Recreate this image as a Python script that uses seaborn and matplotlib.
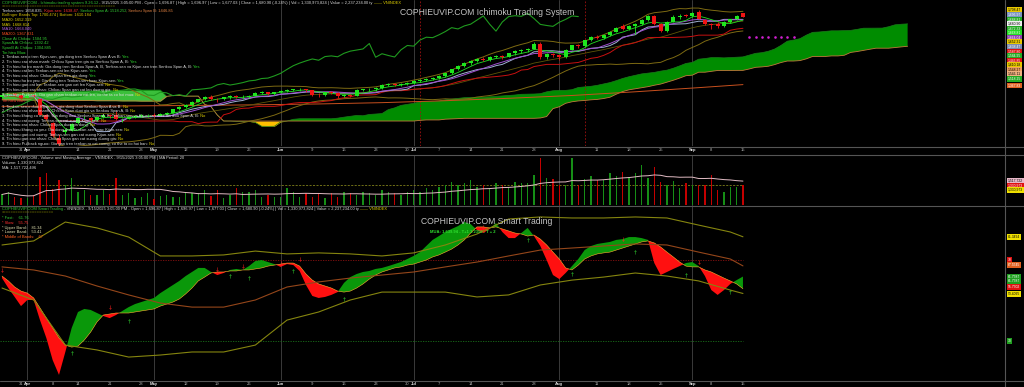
import numpy as np
import pandas as pd
import seaborn as sns
import matplotlib.pyplot as plt
from matplotlib.lines import Line2D

W, H = 1024, 387
STEP, X_OFF = 6.333, 2.0          # pixels per bar, pixel of first bar
PLOT_R = 1005                     # right edge of the chart area
X0, X1 = -X_OFF / STEP, (PLOT_R - X_OFF) / STEP

sns.set_style('dark', {'axes.facecolor': 'black', 'figure.facecolor': 'black'})
plt.rcParams['font.family'] = ['Liberation Sans', 'DejaVu Sans']

# ---------------- data ----------------
holidays = ['2025-04-07', '2025-04-30', '2025-05-01', '2025-05-02', '2025-09-01', '2025-09-02']
dates = pd.bdate_range('2025-03-26', '2025-09-15')
dates = dates[~dates.isin(pd.to_datetime(holidays))]

opens = [1312, 1318, 1325, 1318, 1306, 1319, 1300, 1229, 1190, 1122,
         1150, 1160, 1190, 1215, 1214, 1206, 1218, 1227, 1228, 1209,
         1212, 1219, 1224, 1226, 1229, 1224, 1234, 1238, 1254, 1267,
         1274, 1289, 1301, 1313, 1302, 1300, 1309, 1315, 1311, 1313,
         1317, 1331, 1334, 1326, 1332, 1340, 1342, 1347, 1348, 1341,
         1320, 1318, 1333, 1330, 1317, 1322, 1315, 1344, 1346, 1349,
         1353, 1367, 1373, 1366, 1371, 1377, 1385, 1388, 1396, 1398,
         1408, 1420, 1438, 1455, 1467, 1477, 1486, 1480, 1497, 1500,
         1496, 1512, 1522, 1527, 1532, 1557, 1494, 1510, 1502, 1495,
         1528, 1548, 1545, 1573, 1586, 1584, 1597, 1612, 1638, 1624,
         1638, 1646, 1665, 1684, 1646, 1614, 1656, 1681, 1688, 1682,
         1700, 1665, 1645, 1648, 1636, 1655, 1668, 1696.87]
highs = [1320, 1327, 1328, 1320, 1320, 1322, 1302, 1232, 1195, 1140,
         1165, 1192, 1218, 1222, 1218, 1220, 1230, 1232, 1245, 1216,
         1222, 1228, 1232, 1232, 1236, 1236, 1242, 1256, 1270, 1278,
         1292, 1304, 1316, 1318, 1306, 1312, 1318, 1320, 1318, 1322,
         1334, 1338, 1336, 1336, 1345, 1347, 1350, 1353, 1350, 1343,
         1328, 1335, 1338, 1332, 1326, 1326, 1346, 1350, 1353, 1356,
         1369, 1375, 1376, 1374, 1380, 1388, 1392, 1398, 1402, 1410,
         1422, 1440, 1457, 1470, 1480, 1490, 1495, 1500, 1505, 1506,
         1514, 1526, 1532, 1535, 1562, 1562, 1512, 1515, 1506, 1532,
         1552, 1556, 1575, 1590, 1594, 1600, 1615, 1634, 1648, 1642,
         1652, 1668, 1690, 1690, 1652, 1660, 1690, 1692, 1694, 1700,
         1711, 1668, 1650, 1655, 1660, 1672, 1688, 1696.97]
lows = [1308, 1315, 1314, 1302, 1305, 1312, 1226, 1205, 1128, 1073,
        1140, 1156, 1188, 1208, 1198, 1200, 1214, 1215, 1205, 1198,
        1208, 1215, 1218, 1220, 1218, 1222, 1230, 1236, 1252, 1262,
        1270, 1286, 1298, 1298, 1288, 1296, 1304, 1306, 1304, 1308,
        1314, 1326, 1320, 1318, 1330, 1335, 1338, 1340, 1336, 1316,
        1312, 1316, 1325, 1305, 1310, 1310, 1314, 1338, 1340, 1340,
        1350, 1362, 1362, 1360, 1366, 1372, 1378, 1384, 1388, 1392,
        1405, 1416, 1435, 1450, 1460, 1470, 1476, 1478, 1490, 1486,
        1494, 1506, 1515, 1518, 1530, 1485, 1488, 1495, 1480, 1490,
        1525, 1536, 1543, 1570, 1576, 1580, 1592, 1608, 1618, 1620,
        1602, 1642, 1660, 1640, 1608, 1610, 1654, 1670, 1678, 1678,
        1668, 1640, 1625, 1630, 1632, 1650, 1664, 1677.03]
closes = [1318, 1325, 1318, 1306, 1319, 1317, 1229, 1210, 1133, 1094,
          1160, 1187, 1215, 1216, 1206, 1218, 1227, 1222, 1209, 1212,
          1219, 1224, 1226, 1229, 1224, 1234, 1238, 1254, 1267, 1274,
          1289, 1301, 1313, 1302, 1300, 1309, 1315, 1311, 1313, 1317,
          1331, 1334, 1326, 1332, 1340, 1342, 1347, 1348, 1341, 1320,
          1318, 1333, 1330, 1317, 1322, 1315, 1344, 1346, 1349, 1353,
          1367, 1373, 1366, 1371, 1377, 1385, 1388, 1396, 1398, 1408,
          1420, 1438, 1455, 1467, 1477, 1486, 1480, 1497, 1500, 1496,
          1512, 1522, 1527, 1532, 1557, 1494, 1510, 1502, 1495, 1528,
          1548, 1545, 1573, 1586, 1584, 1597, 1612, 1630, 1624, 1638,
          1646, 1665, 1684, 1646, 1614, 1656, 1681, 1685, 1682, 1696,
          1672, 1645, 1640, 1636, 1655, 1668, 1684, 1680.90]
# volume in millions of shares
volumes = [700, 887, 554, 443, 443, 665, 1884, 2106, 1042, 1663,
           1330, 1773, 887, 998, 665, 665, 998, 732, 1773, 665,
           776, 443, 554, 820, 377, 599, 665, 554, 554, 776,
           776, 776, 998, 599, 998, 443, 665, 1108, 887, 887,
           998, 554, 665, 554, 554, 1108, 887, 554, 776, 554,
           776, 443, 776, 554, 887, 776, 665, 887, 776, 665,
           998, 887, 776, 665, 887, 998, 887, 1108, 998, 1219,
           1330, 1553, 1330, 1441, 1663, 1219, 1330, 1108, 1441, 1330,
           1197, 1530, 1463, 1463, 1995, 3126, 1796, 1729, 1330, 1330,
           3126, 1330, 1729, 1929, 1663, 1663, 2128, 1929, 2195, 1862,
           2128, 2660, 1796, 2527, 1530, 1330, 1596, 1131, 1463, 1330,
           1330, 1330, 1995, 998, 865, 1197, 1197, 1331]
# senkou spans already projected onto the first 26 bars
span_a_head = [1328, 1329, 1330, 1330, 1331, 1332, 1333, 1334, 1335, 1336, 1337, 1337, 1338,
               1338, 1339, 1340, 1340, 1341, 1341, 1342, 1342, 1342, 1343, 1343, 1343, 1343]
span_b_head = [1298, 1298, 1298, 1297, 1297, 1297, 1296, 1296, 1296, 1296, 1295, 1295, 1295,
               1295, 1295, 1294, 1294, 1294, 1294, 1293, 1293, 1293, 1292, 1292, 1292, 1292]
ma200_idx = [0, 10, 20, 30, 40, 50, 60, 70, 80, 90, 100, 110, 117]
ma200_val = [1268, 1269, 1270, 1272, 1275, 1279, 1285, 1294, 1305, 1318, 1335, 1354, 1368]
future_idx = [118, 119, 120, 121, 122, 123, 124, 125]
future_val = [1585, 1585, 1585, 1585, 1585, 1585, 1585, 1585]

# Smart Trading oscillator
fast = [61.0, 56.1, 51.7, 47.2, 50.2, 50.2, 40.3, 31.5, 20.6, 13.3,
        24.6, 36.4, 44.3, 45.8, 45.3, 43.8, 42.3, 41.3, 42.8, 44.8,
        46.7, 48.2, 49.2, 50.2, 51.2, 53.6, 55.6, 57.6, 59.6, 62.0,
        64.0, 66.0, 66.0, 64.0, 62.5, 63.5, 65.0, 65.5, 65.0, 66.9,
        69.4, 69.9, 68.9, 67.9, 66.5, 67.9, 67.4, 64.5, 57.6, 52.2,
        51.2, 51.7, 52.7, 54.1, 58.6, 61.5, 63.0, 64.0, 64.5, 65.5,
        66.0, 66.9, 67.9, 68.9, 70.4, 71.9, 73.8, 76.8, 79.8, 81.7,
        83.7, 85.2, 86.6, 88.6, 87.6, 84.7, 83.2, 85.2, 88.1, 83.7,
        80.7, 80.7, 83.2, 85.7, 81.7, 76.8, 69.9, 62.5, 60.5, 63.5,
        66.9, 70.4, 74.8, 76.8, 77.8, 78.3, 78.8, 79.8, 80.2, 81.2,
        81.2, 80.7, 79.8, 68.4, 62.5, 64.0, 65.5, 66.9, 68.4, 68.9,
        66.9, 62.0, 55.1, 52.7, 55.1, 58.1, 60.0, 61.76]
slow = [62.0, 59.6, 56.6, 54.6, 53.6, 51.2, 46.3, 41.3, 36.4, 31.5,
        28.0, 27.0, 27.5, 30.5, 34.4, 39.4, 42.8, 43.3, 43.8, 43.8,
        43.8, 44.3, 44.8, 45.3, 45.8, 47.2, 48.2, 49.2, 50.7, 53.2,
        56.1, 59.6, 61.5, 63.5, 64.0, 64.0, 64.5, 64.5, 65.0, 65.0,
        65.5, 66.0, 66.9, 67.4, 67.9, 68.4, 68.4, 66.9, 63.0, 60.0,
        58.1, 57.1, 56.1, 54.6, 54.1, 54.6, 56.1, 58.1, 60.5, 62.5,
        64.0, 65.0, 66.0, 66.5, 67.4, 67.9, 68.9, 69.9, 71.4, 72.4,
        73.8, 75.3, 77.3, 79.8, 83.2, 86.2, 86.2, 85.7, 86.2, 85.2,
        84.2, 83.2, 82.7, 81.7, 82.2, 80.2, 77.3, 73.8, 70.4, 66.0,
        65.0, 67.4, 70.4, 71.9, 72.9, 73.4, 73.8, 74.8, 75.8, 76.8,
        77.8, 78.8, 79.3, 78.3, 76.3, 73.8, 71.4, 68.9, 66.9, 66.5,
        66.5, 65.0, 64.0, 62.5, 61.0, 59.6, 58.1, 55.75]
band_idx = [0, 5, 10, 15, 20, 25, 30, 35, 40, 45, 50, 55, 60, 65, 70, 75, 80, 85, 90, 95, 100, 105, 110, 115, 117]
band_upper = [77.3, 79.3, 88.6, 85.7, 81.2, 71.9, 71.9, 72.4, 74.3, 72.9, 73.4, 72.9, 71.9,
              73.4, 77.3, 82.7, 90.1, 91.1, 90.6, 90.6, 91.1, 90.6, 87.1, 83.7, 81.34]
band_mid = [66.5, 65.0, 62.0, 57.1, 52.7, 48.7, 46.7, 46.7, 50.2, 56.6, 59.1, 61.0, 62.5,
            64.0, 66.5, 68.9, 71.9, 74.8, 75.8, 76.8, 77.8, 77.3, 73.8, 70.4, 67.0]
band_lower = [56.1, 50.2, 28.0, 25.6, 22.1, 23.1, 24.6, 24.6, 28.0, 40.3, 44.3, 50.2, 54.1,
              54.1, 54.1, 51.7, 52.7, 57.6, 60.0, 61.5, 63.5, 62.0, 59.6, 55.1, 53.41]
buy_idx = [11, 20, 36, 39, 46, 54, 83, 90, 100, 108, 115]
buy_val = [24.1, 39.9, 62.0, 61.0, 64.5, 50.7, 79.8, 63.0, 73.8, 62.5, 54.1]
sell_idx = [0, 17, 34, 38, 44, 47, 76, 98, 110]
sell_val = [65.0, 46.7, 65.5, 67.0, 68.4, 70.4, 86.2, 80.2, 68.9]

tick_dates = ['2025-03-31', '2025-04-01', '2025-04-08', '2025-04-14', '2025-04-21', '2025-04-28',
              '2025-05-05', '2025-05-12', '2025-05-19', '2025-05-26', '2025-06-02', '2025-06-09',
              '2025-06-16', '2025-06-23', '2025-06-30', '2025-07-01', '2025-07-07', '2025-07-14',
              '2025-07-21', '2025-07-28', '2025-08-01', '2025-08-11', '2025-08-18', '2025-08-25',
              '2025-09-03', '2025-09-08', '2025-09-15']
tick_text = ['31', 'Apr', '8', '14', '21', '28', 'May', '12', '19', '26', 'Jun', '9', '16', '23',
             '30', 'Jul', '7', '14', '21', '28', 'Aug', '11', '18', '25', 'Sep', '8', '15']
months = ['Apr', 'May', 'Jun', 'Jul', 'Aug', 'Sep']

# ---------------- indicators ----------------
o, h, l, c = (pd.Series(v, dtype=float) for v in (opens, highs, lows, closes))
xi = np.arange(len(c))


def mid(n):
    return (h.rolling(n, min_periods=1).max() + l.rolling(n, min_periods=1).min()) / 2


tenkan, kijun = mid(9), mid(26)
span_a = np.r_[span_a_head, ((tenkan + kijun) / 2).values]
span_b = np.r_[span_b_head, mid(52).values]
ci = np.arange(len(span_a))
ma5 = c.rolling(5, min_periods=1).mean()
ma10 = c.rolling(10, min_periods=1).mean()
ma20 = c.rolling(20, min_periods=1).mean()
sd20 = c.rolling(20, min_periods=1).std(ddof=0)
chikou = c.shift(-26).dropna()
vol_ma = pd.Series(volumes, dtype=float).rolling(20, min_periods=1).mean()

tick_pos = [dates.get_loc(pd.Timestamp(d)) for d in tick_dates]
month_pos = [p for p, t in zip(tick_pos, tick_text) if t in months]

# ---------------- figure ----------------
fig = plt.figure(figsize=(W / 100, H / 100), dpi=100, facecolor='black')
renderer = fig.canvas.get_renderer()


def panel(top, bottom, ylim):
    ax = fig.add_axes([0, 1 - bottom / H, PLOT_R / W, (bottom - top) / H])
    ax.set_facecolor('black')
    for s in ax.spines.values():
        s.set_visible(False)
    ax.set_xticks([])
    ax.set_yticks([])
    ax.set_xlim(X0, X1)
    ax.set_ylim(*ylim)
    for p in month_pos:
        ax.axvline(p, color='#3a3a3a', lw=0.7, zorder=0)
    return ax


def put(x, y, parts, size=2.9, weight='normal'):
    for s, col in parts:
        t = fig.text(x / W, 1 - y / H, s, color=col, fontsize=size, ha='left', va='center',
                     fontweight=weight)
        x += t.get_window_extent(renderer=renderer).width
    return x


def line(ax, x, y, color, lw, z=3):
    sns.lineplot(x=np.asarray(x), y=np.asarray(y), ax=ax, color=color, linewidth=lw,
                 errorbar=None, legend=False, zorder=z)


def hline_px(y, color='#555555', lw=0.8):
    fig.add_artist(Line2D([0, 1], [1 - y / H, 1 - y / H], color=color, lw=lw))


# ---- panel 1: Ichimoku ----
ax1 = panel(0, 146, (1085.6, 1757.2))
up_cloud = span_a >= span_b
ax1.fill_between(ci, span_a, span_b, where=up_cloud, interpolate=True, color='#008c00', lw=0, zorder=1)
ax1.fill_between(ci, span_a, span_b, where=up_cloud & (ci <= 31), interpolate=True, color='#3bbf3b', lw=0, zorder=1.1)
ax1.fill_between(ci, span_a, span_b, where=~up_cloud, interpolate=True, color='#ffbf00', lw=0, zorder=1)
line(ax1, ci, span_a, '#1a7a1a', 0.5, 2)
line(ax1, ci, span_b, '#c07a3a', 0.6, 2)
for p in (len(c) - 52, len(c) - 26):
    ax1.axvline(p, color='#a01010', lw=0.6, ls=(0, (2, 2)), zorder=1.5)
line(ax1, ma200_idx, ma200_val, '#c8501e', 0.7)
line(ax1, xi, ma20 + 2 * sd20, '#7d6a12', 0.7)
line(ax1, xi, ma20 - 2 * sd20, '#7d6a12', 0.7)
line(ax1, xi, ma20, '#5e5608', 0.6)
line(ax1, chikou.index, chikou.values, '#1f9a1f', 0.8)
line(ax1, xi, kijun, '#c81010', 0.7)
line(ax1, xi, tenkan, '#9fb0d2', 0.7)
line(ax1, xi, ma10, '#a050d0', 0.7)
line(ax1, xi, ma5, '#22dd22', 0.6)
cols = np.where(c >= o, '#1ee61e', '#f01414')
ax1.vlines(xi, l, h, colors=cols, lw=0.6, zorder=4)
ax1.bar(xi, np.maximum((c - o).abs(), 0.9), bottom=np.minimum(o, c), width=0.62, color=cols, lw=0, zorder=5)
ax1.scatter(future_idx, future_val, s=3.5, color='#d020d0', zorder=5, linewidths=0)

# ---- panel 2: volume ----
ax2 = panel(155, 206, (-66.5, 3325))
vcols = np.where(c >= o, '#168e16', '#c40000')
ax2.bar(xi, volumes, width=0.22, color=vcols, lw=0, zorder=2)
line(ax2, xi, vol_ma, '#e2bcc4', 0.7)
ax2.hlines(volumes[-1], X0, xi[-1], color='#9a9a20', lw=0.5, ls=(0, (3, 2)), zorder=1)

# ---- panel 3: Smart Trading ----
ax3 = panel(206, 380, (10.8, 96.5))
fa, sa = np.array(fast), np.array(slow)
ax3.fill_between(xi, fa, sa, where=fa >= sa, interpolate=True, color='#0a980a', lw=0, zorder=2)
ax3.fill_between(xi, fa, sa, where=fa < sa, interpolate=True, color='#ff1010', lw=0, zorder=2)
line(ax3, xi, sa, '#ffae30', 0.4, 3)
line(ax3, band_idx, band_upper, '#85850f', 0.8)
line(ax3, band_idx, band_lower, '#85850f', 0.8)
line(ax3, band_idx, band_mid, '#94461a', 0.8)
ax3.hlines(70, X0, xi[-1], color='#8a1010', lw=0.6, ls=(0, (1.5, 1.5)), zorder=1)
ax3.hlines(30, X0, xi[-1], color='#1a701a', lw=0.6, ls=(0, (1.5, 1.5)), zorder=1)
ax3.scatter(buy_idx, buy_val, marker='$\\uparrow$', s=9, color='#30d030', zorder=4, linewidths=0)
ax3.scatter(sell_idx, sell_val, marker='$\\downarrow$', s=9, color='#ff2020', zorder=4, linewidths=0)

# ---- frame lines ----
for y in (146.5, 154.5, 206, 380.5):
    hline_px(y)
fig.add_artist(Line2D([PLOT_R / W] * 2, [0, 1], color='#555555', lw=0.8))

# ---- date strips ----
for p, t in zip(tick_pos, tick_text):
    xp = (X_OFF + STEP * p) / W
    bold = t in months
    for yy in (150.5, 384):
        fig.text(xp, 1 - yy / H, t, color='#e0e0e0' if bold else '#b0b0b0', fontsize=3.0,
                 ha='center', va='center', fontweight='bold' if bold else 'normal')

# ---- watermarks ----
fig.text(487 / W, 1 - 12.7 / H, 'COPHIEUVIP.COM Ichimoku Trading System', color='#c4c4c4',
         fontsize=6.2, ha='center', va='center')
fig.text(487 / W, 1 - 221.5 / H, 'COPHIEUVIP.COM Smart Trading', color='#c4c4c4',
         fontsize=6.2, ha='center', va='center')

# ---- panel 1 legend ----
WH, GR, YE, RD = '#dcdcdc', '#33c833', '#e0d000', '#ff3030'
header = (' - 9/15/2025 3:05:00 PM - Open = 1,696.87 | High = 1,696.97 | Low = 1,677.03 | '
          'Close = 1,680.90 (-0.24%) | Vol = 1,330,973,824 | Value = 2,237,234.00 ty ')
put(2, 2.7, [('COPHIEUVIP.COM - Ichimoku trading system 9.26.12', GR), (header, WH), ('—— VNINDEX', YE)])
put(2, 6.7, [('=' * 48, '#9a9a00')])
info = [
    [('Tenkan-sen: 1658.835', WH), (', Kijun-sen: 1638.47', RD), (', Senkou Span A: 1518.252', GR),
     (', Senkou Span B: 1446.85', '#e08040')],
    [('Bollinger Bands Top: 1700.474 | Bottom: 1610.184', '#d8c000')],
    [('MA20: 1652.319', YE)],
    [('MA5: 1668.814', YE)],
    [('MA10: 1664.040', '#b060e0')],
    [('MA200: 1367.831', '#ff5020')],
    [('Close At Chikou: 1584.95', GR)],
    [('SpanA At Chikou: 1392.42', GR)],
    [('SpanB At Chikou: 1304.885', GR)],
    [('Tin hieu Mua:', '#30e030')],
]
buy_rules = [
    ('1. Tenkan-sen o tren Kijun-sen, gia dong tren Senkou Span A va B:', 'Yes'),
    ('2. Tin hieu xac nhan manh: Chikou Span tren gia va Senkou Span A, B:', 'Yes'),
    ('3. Tin hieu ho tro manh: Gia dong tren Senkou Span A, B, Tenkan-sen va Kijun-sen tren Senkou Span A, B:', 'Yes'),
    ('4. Tin hieu cat len: Tenkan-sen cat len Kijun-sen:', 'Yes'),
    ('5. Tin hieu xac nhan: Chikou Span tren gia dong:', 'Yes'),
    ('6. Tin hieu ho tro yeu: Gia dong tren Tenkan-sen hoac Kijun-sen:', 'Yes'),
    ('7. Tin hieu gan cat len: Tenkan-sen gan cat len Kijun-sen:', 'No'),
    ('8. Tin hieu gan xac nhan: Chikou Span gan cat len duong gia:', 'No'),
    ('9. Tin hieu Pullback: Gia gan cham tenkan ro cat len, co the ta co hoi mua:', 'No'),
]
sell_rules = [
    ('1. Tenkan-sen o duoi Kijun-sen, gia dong duoi Senkou Span A va B:', 'No'),
    ('2. Tin hieu xac nhan manh: Chikou Span duoi gia va Senkou Span A, B:', 'No'),
    ('3. Tin hieu khang cu manh: Gia dong duoi Senkou Span A, B, Tenkan-sen va Kijun-sen duoi Senkou Span A, B:', 'No'),
    ('4. Tin hieu cat xuong: Tenkan-sen cat xuong Kijun-sen:', 'No'),
    ('5. Tin hieu xac nhan: Chikou Span duoi gia dong:', 'No'),
    ('6. Tin hieu khang cu yeu: Gia dong duoi Tenkan-sen hoac Kijun-sen:', 'No'),
    ('7. Tin hieu gan cat xuong: Tenkan-sen gan cat xuong Kijun-sen:', 'No'),
    ('8. Tin hieu gan xac nhan: Chikou Span gan cat xuong duong gia:', 'No'),
    ('9. Tin hieu Pullback nguoc: Gia gan tren tenkan ro cat xuong, co the ta co hoi ban:', 'No'),
]
y = 10.7
for parts in info:
    put(2, y, parts)
    y += 4.67
for txt, ans in buy_rules:
    put(2, y, [(txt, WH), (' ' + ans, '#30e030' if ans == 'Yes' else YE)])
    y += 4.67
put(2, 100.7, [('Tin hieu Ban:', RD)])
y = 106.7
for txt, ans in sell_rules:
    put(2, y, [(txt, WH), (' ' + ans, '#30e030' if ans == 'Yes' else YE)])
    y += 4.67

# ---- panel 2 legend ----
put(2, 157.5, [('COPHIEUVIP.COM - Volume and Moving Average - VNINDEX - 9/15/2025 3:05:00 PM | MA Period: 20', WH)])
put(2, 162.8, [('Volume: 1,330,973,824', WH)])
put(2, 168.0, [('MA: 1,517,722,496', WH)])

# ---- panel 3 legend ----
put(2, 208.6, [('COPHIEUVIP.COM Smart Trading', GR), (' - VNINDEX' + header, WH), ('—— VNINDEX', YE)])
put(2, 212.6, [('=' * 22, '#9a9a00')])
put(2, 218.0, [('* Fast:', GR), ('    61.76', GR)])
put(2, 222.6, [('* Slow:', RD), ('    55.75', RD)])
put(2, 227.6, [('* Upper Band:', '#e0e0b0'), ('    81.34', '#e0e0b0')])
put(2, 232.2, [('* Lower Band:', '#e0e0b0'), ('    53.41', '#e0e0b0')])
put(2, 237.0, [('* Middle of Bands:', '#ff6020'), ('    67', '#ff6020')])
put(430, 231, [('MUA: 1,639.94 - T+1 1.2350 - T + 2', '#30e030')], size=3.0, weight='bold')

# ---- right-hand value labels ----
right_labels = [
    (10, '1,708.47', '#e8c800', 'black'), (15, '1,696.97', '#7b93c0', 'white'),
    (19.5, '1,688.81', '#22aa22', 'white'), (24, '1,680.90', '#f0f0f0', 'black'),
    (28.5, '1,672.33', '#22aa22', 'white'), (33, '1,668.81', '#22dd22', 'white'),
    (37.5, '1,664.04', '#9040b0', 'white'), (42, '1,652.31', '#e8c800', 'black'),
    (47, '1,638.47', '#7b8bb0', 'white'), (51.5, '1,587.80', '#dd1111', 'white'),
    (56, '1,584.95', '#22aa22', 'white'), (60.5, '1,446.85', '#dd1111', 'white'),
    (65, '1,610.18', '#e8c800', 'black'), (69.5, '1,548.27', '#f0a060', 'black'),
    (74, '1,546.11', '#f0b080', 'black'), (79, '1,518.25', '#22aa22', 'white'),
    (85.5, '1,367.83', '#e06020', 'white'),
    (181, '1,517,722', '#e8b8c8', 'black'), (185.5, '1,330,973', '#e01010', 'white'),
    (190, '1,330,973', '#f0e000', 'black'),
    (237, '81.3494', '#f0e000', 'black'), (260, '70', '#e01010', 'white'),
    (265, '67.5545', '#e06020', 'white'), (277, '61.7587', '#1f9f1f', 'white'),
    (281, '61.7587', '#1f9f1f', 'white'), (287, '55.7502', '#e01010', 'white'),
    (294, '53.4095', '#f0e000', 'black'), (341, '30', '#1f9f1f', 'white'),
]
for yy, txt, bg, fg in right_labels:
    fig.text(1008 / W, 1 - yy / H, txt, color=fg, fontsize=2.4, ha='left', va='center',
             bbox=dict(boxstyle='square,pad=0.2', fc=bg, ec='none'))

fig.savefig('out.png', dpi=100, facecolor='black')
